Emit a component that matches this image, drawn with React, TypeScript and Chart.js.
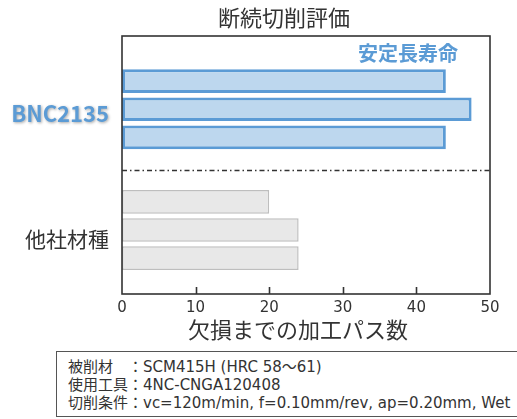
import { useEffect, useRef } from 'react';
import { Chart, registerables } from 'chart.js';

Chart.register(...registerables);

const groups = ['BNC2135', '他社材種'];
const trial1 = [44, 20];
const trial2 = [47.5, 24];
const trial3 = [44, 24];
const xMin = 0;
const xMax = 50;
const xStep = 10;
const chartTitle = '断続切削評価';
const xTitle = '欠損までの加工パス数';
const note = '安定長寿命';
const conditions = [
  '被削材\u3000：SCM415H (HRC 58～61)',
  '使用工具：4NC-CNGA120408',
  '切削条件：vc=120m/min, f=0.10mm/rev, ap=0.20mm, Wet',
];

const CJK = '"Noto Sans CJK JP", "Noto Sans", sans-serif';
const BLUE = '#5B9BD5';
const BLUE_FILL = '#BDD7EE';
const GRAY = '#BEBEBE';
const GRAY_FILL = '#E8E8E8';
const INK = '#333333';

const decorPlugin = {
  id: 'decor',
  afterDatasetsDraw(chart: any) {
    const { ctx, chartArea: a, scales } = chart;
    const xs = scales.x;
    const ys = scales.y;
    ctx.save();
    // separator dash-dot line between groups
    ctx.strokeStyle = INK;
    ctx.lineWidth = 1.5;
    ctx.setLineDash([5, 3, 1.5, 3]);
    const sy = Math.round(ys.getPixelForValue(0.5)) + 0.5;
    ctx.beginPath();
    ctx.moveTo(a.left, sy);
    ctx.lineTo(a.right, sy);
    ctx.stroke();
    ctx.setLineDash([]);
    // plot box
    ctx.lineWidth = 1.6;
    ctx.strokeStyle = INK;
    ctx.strokeRect(a.left, a.top, a.right - a.left, a.bottom - a.top);
    // inward tick marks
    for (let v = xMin + xStep; v < xMax; v += xStep) {
      const px = Math.round(xs.getPixelForValue(v)) + 0.5;
      ctx.beginPath();
      ctx.moveTo(px, a.bottom);
      ctx.lineTo(px, a.bottom - 7);
      ctx.stroke();
    }
    // chart title
    ctx.fillStyle = INK;
    ctx.textAlign = 'center';
    ctx.textBaseline = 'middle';
    ctx.font = `22px ${CJK}`;
    ctx.fillText(chartTitle, 284, 18);
    // x title
    ctx.fillText(xTitle, 298, 330);
    // note
    ctx.fillStyle = BLUE;
    ctx.font = `bold 20px ${CJK}`;
    ctx.textAlign = 'right';
    ctx.fillText(note, 458, 53);
    // y labels
    ctx.textAlign = 'right';
    groups.forEach((g, i) => {
      const py = ys.getPixelForValue(i);
      if (i === 0) {
        ctx.font = `bold 22px ${CJK}`;
        ctx.fillStyle = BLUE;
        ctx.shadowColor = 'rgba(0,0,0,0.35)';
        ctx.shadowBlur = 3;
        ctx.shadowOffsetX = 1;
        ctx.shadowOffsetY = 1;
        ctx.fillText(g, 109, py + 4);
        ctx.shadowColor = 'transparent';
        ctx.shadowBlur = 0;
        ctx.shadowOffsetX = 0;
        ctx.shadowOffsetY = 0;
      } else {
        ctx.font = `21px ${CJK}`;
        ctx.fillStyle = INK;
        ctx.fillText(g, 109, py + 9);
      }
    });
    ctx.restore();
  },
};

function makeData(values: number[]) {
  return values.map((v, i) => ({ x: v, y: i }));
}

export default function App() {
  const ref = useRef<HTMLCanvasElement | null>(null);
  useEffect(() => {
    if (!ref.current) return;
    const ds = (label: string, values: number[]) => ({
      label,
      data: makeData(values),
      backgroundColor: (c: any) => (c.dataIndex === 0 ? BLUE_FILL : GRAY_FILL),
      borderColor: (c: any) => (c.dataIndex === 0 ? BLUE : GRAY),
      borderWidth: (c: any) => (c.dataIndex === 0 ? 3 : 1.5),
      borderSkipped: false,
      categoryPercentage: 0.7,
      barPercentage: 0.84,
    });
    const chart = new Chart(ref.current, {
      type: 'bar',
      data: {
        datasets: [ds('1', trial1), ds('2', trial2), ds('3', trial3)],
      },
      options: {
        animation: false,
        responsive: true,
        maintainAspectRatio: false,
        indexAxis: 'y',
        layout: { padding: { left: 122, right: 27, top: 36, bottom: 0 } },
        plugins: { legend: { display: false }, tooltip: { enabled: false }, title: { display: false } },
        scales: {
          y: {
            type: 'linear',
            min: -0.607,
            max: 1.53,
            reverse: true,
            offset: false,
            display: true,
            grid: { display: false, drawTicks: false, offset: false },
            border: { display: false },
            ticks: { display: false, padding: 0 },
            afterBuildTicks: (s: any) => {
              s.ticks = groups.map((_, i) => ({ value: i }));
            },
            afterFit: (s: any) => {
              s.width = 0;
            },
          },
          x: {
            type: 'linear',
            min: xMin,
            max: xMax,
            grid: { display: false, drawTicks: false },
            border: { display: false },
            ticks: {
              stepSize: xStep,
              padding: 5,
              color: INK,
              font: { family: '"DejaVu Sans", sans-serif', size: 15 },
              maxRotation: 0,
            },
            afterFit: (s: any) => {
              s.height = 51;
            },
          },
        },
      },
      plugins: [decorPlugin],
    });
    return () => chart.destroy();
  }, []);

  return (
    <div style={{ position: 'fixed', left: 0, top: 0, width: 517, height: 419, background: '#fff', overflow: 'hidden' }}>
      <div style={{ position: 'absolute', left: 0, top: 0, width: 517, height: 345 }}>
        <canvas ref={ref} />
      </div>
      <div
        style={{
          position: 'absolute',
          left: 56,
          top: 351,
          width: 480,
          height: 66,
          border: '1.5px solid #555',
          boxSizing: 'border-box',
          padding: '5.5px 0 0 11px',
          fontFamily: '"DejaVu Sans", "Noto Sans CJK JP", sans-serif',
          fontSize: 15,
          lineHeight: '18.2px',
          color: INK,
          whiteSpace: 'nowrap',
        }}
      >
        {conditions.map((c, i) => (
          <div key={i}>{c}</div>
        ))}
      </div>
    </div>
  );
}
